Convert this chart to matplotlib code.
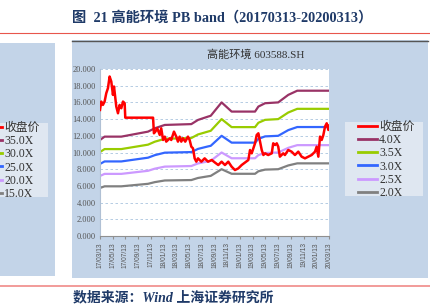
import matplotlib
matplotlib.use('Agg')
import matplotlib.pyplot as plt
import matplotlib.dates as mdates
import pandas as pd
from matplotlib.patches import Rectangle
from matplotlib.lines import Line2D

W, H = 431, 308

# band anchors
band_dates = ['2017-03-13', '2017-04-04', '2017-06-23', '2017-10-29', '2017-11-30',
              '2018-01-17', '2018-05-24', '2018-06-25', '2018-08-12', '2018-08-25',
              '2018-10-16', '2018-12-03', '2019-03-25', '2019-04-10', '2019-05-12',
              '2019-07-14', '2019-08-31', '2019-10-13', '2020-03-13']
band_40 = [11.5, 11.9, 11.9, 12.5, 12.9, 13.3, 13.4, 13.9, 14.3, 14.4,
           16.0, 14.9, 14.9, 15.5, 15.9, 16.0, 16.9, 17.4, 17.4]
band_35 = [10.06, 10.41, 10.41, 10.94, 11.29, 11.64, 11.73, 12.16, 12.51, 12.6,
           14.0, 13.04, 13.04, 13.56, 13.91, 14.0, 14.79, 15.23, 15.23]
band_30 = [8.63, 8.93, 8.93, 9.38, 9.68, 9.98, 10.05, 10.43, 10.73, 10.8,
           12.0, 11.18, 11.18, 11.63, 11.93, 12.0, 12.68, 13.05, 13.05]
band_25 = [7.19, 7.44, 7.44, 7.81, 8.06, 8.31, 8.38, 8.69, 8.94, 9.0,
           10.0, 9.31, 9.31, 9.69, 9.94, 10.0, 10.56, 10.88, 10.88]
band_20 = [5.75, 5.95, 5.95, 6.25, 6.45, 6.65, 6.7, 6.95, 7.15, 7.2,
           8.0, 7.45, 7.45, 7.75, 7.95, 8.0, 8.45, 8.7, 8.7]

# closing price
price_dates = ['2017-03-13', '2017-03-19', '2017-03-27', '2017-04-04', '2017-04-12',
               '2017-04-20', '2017-04-28', '2017-05-06', '2017-05-14', '2017-05-19',
               '2017-05-30', '2017-06-07', '2017-06-15', '2017-06-23', '2017-07-01',
               '2017-07-09', '2017-07-12', '2017-11-22', '2017-11-26', '2017-12-03',
               '2017-12-12', '2017-12-24', '2017-12-31', '2018-01-09', '2018-01-17',
               '2018-01-24', '2018-02-10', '2018-02-17', '2018-03-02', '2018-03-13',
               '2018-03-21', '2018-03-29', '2018-04-06', '2018-04-14', '2018-04-25',
               '2018-05-08', '2018-05-16', '2018-05-24', '2018-06-01', '2018-06-09',
               '2018-06-17', '2018-06-25', '2018-07-11', '2018-07-27', '2018-08-12',
               '2018-08-30', '2018-09-14', '2018-09-30', '2018-10-16', '2018-11-01',
               '2018-11-17', '2018-12-03', '2018-12-19', '2019-01-04', '2019-01-20',
               '2019-02-05', '2019-02-21', '2019-03-01', '2019-03-09', '2019-03-17',
               '2019-03-25', '2019-04-02', '2019-04-10', '2019-04-18', '2019-04-26',
               '2019-05-04', '2019-05-12', '2019-05-27', '2019-06-13', '2019-06-20',
               '2019-06-29', '2019-07-07', '2019-07-14', '2019-07-22', '2019-08-07',
               '2019-08-15', '2019-08-31', '2019-09-16', '2019-10-02', '2019-10-18',
               '2019-11-03', '2019-11-19', '2019-12-05', '2019-12-21', '2020-01-06',
               '2020-01-14', '2020-01-22', '2020-01-30', '2020-02-07', '2020-02-15',
               '2020-02-23', '2020-03-02', '2020-03-10', '2020-03-13']
price = [15.1, 16.1, 15.7, 16.1, 17.1, 17.7, 19.1, 18.5, 16.9, 17.9,
         15.5, 14.7, 15.7, 15.3, 16.1, 15.9, 14.17, 14.17, 12.3, 12.5,
         12.9, 12.1, 12.9, 11.5, 11.9, 11.3, 11.7, 11.5, 12.5, 11.9,
         11.3, 11.9, 11.3, 11.7, 11.3, 11.9, 11.5, 10.7, 10.5, 9.3,
         8.9, 9.3, 8.9, 9.3, 8.9, 9.1, 8.8, 8.5, 8.9, 8.5,
         8.9, 8.3, 7.9, 8.1, 8.5, 8.8, 9.1, 10.3, 9.9, 10.5,
         11.1, 12.1, 12.3, 11.3, 10.3, 9.7, 9.9, 9.7, 9.9, 11.1,
         10.9, 11.1, 10.7, 9.5, 9.9, 9.7, 10.3, 10.1, 9.7, 10.1,
         9.5, 9.3, 9.5, 9.7, 10.1, 10.7, 9.5, 11.9, 11.5, 12.1,
         13.1, 13.5, 12.7, 13.2]

labels_right = ['收盘价', '4.0X', '3.5X', '3.0X', '2.5X', '2.0X']
labels_left = ['收盘价', '35.0X', '30.0X', '25.0X', '20.0X', '15.0X']
colors = ['#ff0000', '#993366', '#99cc00', '#3366ff', '#cc99ff', '#808080']

serif_cjk = ['Liberation Serif', 'Noto Sans CJK SC']


def fx(x):
    return x / W


def fy(y):
    return 1 - y / H


fig = plt.figure(figsize=(W / 100, H / 100), dpi=100)
fig.patch.set_facecolor('white')

panel = '#c3d4e8'
fig.add_artist(Rectangle((fx(72), fy(278)), fx(428) - fx(72), fy(40) - fy(278),
                         transform=fig.transFigure, facecolor=panel, edgecolor='none', zorder=-2))
fig.add_artist(Line2D([fx(72), fx(428)], [fy(40.5)] * 2, transform=fig.transFigure,
                      color='#555555', lw=1.0, zorder=-1))
fig.add_artist(Rectangle((0, fy(276)), fx(55), fy(43) - fy(276),
                         transform=fig.transFigure, facecolor=panel, edgecolor='none', zorder=-2))

# red rules
fig.add_artist(Line2D([0, 1], [fy(33)] * 2, transform=fig.transFigure, color='#e8564c', lw=0.8))
fig.add_artist(Line2D([0, 1], [fy(286)] * 2, transform=fig.transFigure, color='#f08a88', lw=1.2))

fig.text(fx(222), fy(18), '图  21 高能环境 PB band（20170313-20200313）', ha='center', va='center',
         fontsize=10.3, fontweight='bold', color='#1f3a68', family=serif_cjk)
fig.text(fx(73), fy(298), '数据来源：Wind 上海证券研究所', ha='left', va='center',
         fontsize=10, fontweight='bold', style='italic', color='#1f3a68', family=serif_cjk)
fig.text(fx(256), fy(55), '高能环境 603588.SH', ha='center', va='center',
         fontsize=8, color='#333333', family=serif_cjk)

ax = fig.add_axes([fx(100), fy(236), fx(329) - fx(100), fy(69) - fy(236)])
ax.set_facecolor('white')

bd = pd.to_datetime(band_dates)
pdt = pd.to_datetime(price_dates)
bands = [band_40, band_35, band_30, band_25, band_20]
for vals, c in zip(bands, colors[1:]):
    ax.plot(bd, vals, color=c, lw=1.6, zorder=2)
ax.plot(pdt, price, color=colors[0], lw=1.8, zorder=3)

ax.set_xlim(pd.Timestamp('2017-03-13'), pd.Timestamp('2020-03-13'))
ax.set_ylim(0, 20)
ax.set_yticks(range(0, 21, 2))
ax.yaxis.set_major_formatter(plt.FormatStrFormatter('%.3f'))
ax.xaxis.set_major_locator(mdates.MonthLocator(bymonth=(1, 3, 5, 7, 9, 11), bymonthday=13))
ax.xaxis.set_major_formatter(mdates.DateFormatter('%y/%m/%d'))
ax.yaxis.grid(True, linestyle=(0, (3, 3)), color='#a9c4de', lw=0.6)
ax.set_axisbelow(True)
for s in ['top', 'right']:
    ax.spines[s].set_visible(False)
ax.spines['left'].set_color('#b0c0d4')
ax.spines['bottom'].set_color('#909090')
ax.tick_params(axis='y', length=0, pad=3, labelsize=6, labelcolor='#555555')
ax.tick_params(axis='x', length=2.5, color='#909090', pad=2, labelsize=4.8,
               labelcolor='#555555', labelrotation=90)
for t in ax.get_yticklabels():
    t.set_family('Liberation Serif')
for t in ax.get_xticklabels():
    t.set_family('Liberation Sans')

handles = [Line2D([], [], color=c, lw=2) for c in colors]
leg_col = '#dfe7f1'
fig.add_artist(Rectangle((fx(345), fy(196)), fx(423) - fx(345), fy(122) - fy(196),
                         transform=fig.transFigure, facecolor=leg_col, edgecolor='none', zorder=-1))
fig.add_artist(Rectangle((0, fy(197)), fx(48), fy(123) - fy(197),
                         transform=fig.transFigure, facecolor=leg_col, edgecolor='none', zorder=-1))

leg_kw = dict(loc='upper left', frameon=False, handlelength=1.6, handletextpad=0.2,
              labelspacing=0.1, borderpad=0, borderaxespad=0,
              prop={'family': serif_cjk, 'size': 8.5})
leg1 = fig.legend(handles, labels_right, bbox_to_anchor=(fx(358), fy(121)), **leg_kw)
for t in leg1.get_texts():
    t.set_color('#333333')
leg2 = fig.legend(handles, labels_left, bbox_to_anchor=(fx(-17), fy(122)), **leg_kw)
for t in leg2.get_texts():
    t.set_color('#333333')

fig.savefig('out.png', dpi=100)
